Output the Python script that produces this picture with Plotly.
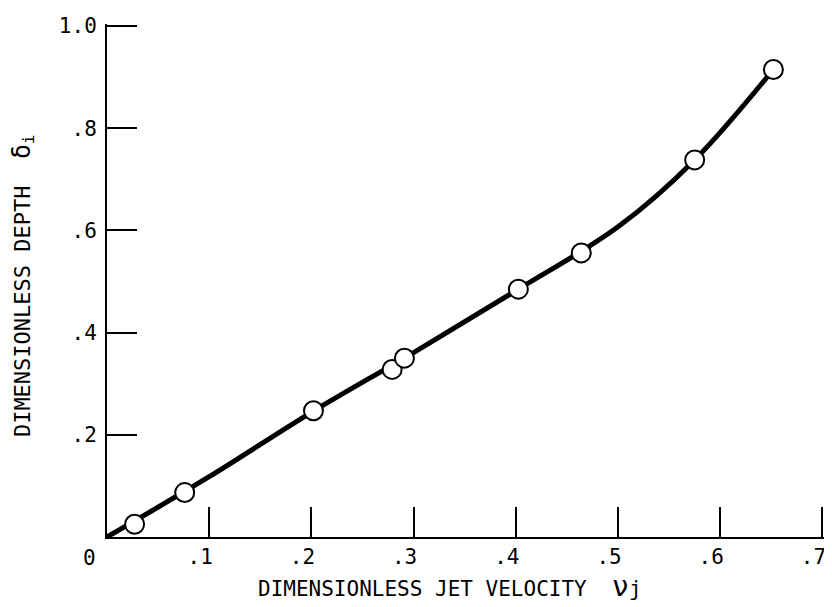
import plotly.graph_objects as go

# measured points
pts_x = [0.027, 0.076, 0.202, 0.279, 0.291, 0.4025, 0.464, 0.575, 0.652]
pts_y = [0.025, 0.087, 0.247, 0.328, 0.350, 0.485, 0.556, 0.738, 0.915]

# faired curve
curve_x = [0.0, 0.1, 0.2, 0.3, 0.4, 0.5, 0.575, 0.652]
curve_y = [0.0, 0.118, 0.244, 0.361, 0.482, 0.607, 0.738, 0.915]

x_ticks = [0.1, 0.2, 0.3, 0.4, 0.5, 0.6, 0.7]
x_labels = [".1", ".2", ".3", ".4", ".5", ".6", ".7"]
y_ticks = [0.2, 0.4, 0.6, 0.8, 1.0]
y_labels = [".2", ".4", ".6", ".8", "1.0"]

FONT = "DejaVu Sans Mono, Liberation Mono, monospace"

fig = go.Figure()
fig.add_trace(go.Scatter(x=curve_x, y=curve_y, mode="lines",
                         line=dict(color="black", width=5, shape="spline", smoothing=1.0),
                         hoverinfo="skip", showlegend=False))
fig.add_trace(go.Scatter(x=pts_x, y=pts_y, mode="markers",
                         marker=dict(size=19, color="white", line=dict(color="black", width=2)),
                         showlegend=False))

fig.update_layout(
    width=824, height=599,
    margin=dict(l=99, r=6, t=12, b=70),
    plot_bgcolor="white", paper_bgcolor="white",
    font=dict(family=FONT, color="black", size=21),
    xaxis=dict(range=[0, 0.7025], tickvals=x_ticks, ticktext=x_labels,
               ticks="inside", ticklen=30, tickwidth=2, tickcolor="black",
               showline=True, linecolor="black", linewidth=2, showgrid=False,
               zeroline=False, ticklabelstandoff=0, ticklabelshift=-9,
               ticklabeloverflow="allow", tickfont=dict(size=21)),
    yaxis=dict(range=[0, 1.004], tickvals=y_ticks, ticktext=y_labels,
               ticks="inside", ticklen=30, tickwidth=2, tickcolor="black",
               showline=True, linecolor="black", linewidth=2, showgrid=False,
               zeroline=False, ticklabelstandoff=4, tickfont=dict(size=21)),
)

fig.add_annotation(x=0, y=0, xref="x", yref="y", text="0", showarrow=False,
                   xshift=-18, yshift=-21, font=dict(size=21))
fig.add_annotation(x=0.478, y=-0.097, xref="paper", yref="paper",
                   text="DIMENSIONLESS JET VELOCITY  <span style='font-size:28px'>ν</span>j",
                   showarrow=False, xanchor="center", yanchor="middle", font=dict(size=21))
fig.add_annotation(x=-0.117, y=0.491, xref="paper", yref="paper",
                   text="DIMENSIONLESS DEPTH  <span style='font-size:25px'>δ</span><sub>i</sub>",
                   textangle=-90, showarrow=False, xanchor="center", yanchor="middle",
                   font=dict(size=22))

fig.write_html("out.html")
